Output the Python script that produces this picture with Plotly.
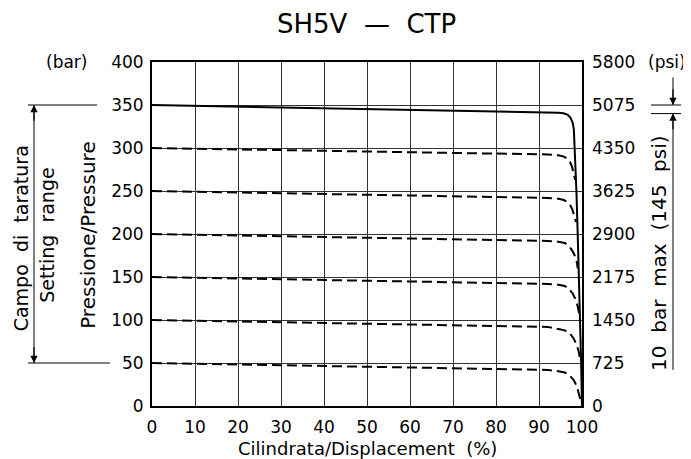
import plotly.graph_objects as go

# ---- data ----
x_ticks = [0, 10, 20, 30, 40, 50, 60, 70, 80, 90, 100]
bar_ticks = [0, 50, 100, 150, 200, 250, 300, 350, 400]
psi_ticks = [0, 725, 1450, 2175, 2900, 3625, 4350, 5075, 5800]

solid_pct = [0, 50, 92, 94.5, 95.7, 96.7, 97.3, 97.8, 98.1, 98.3, 98.7, 99.0, 99.3, 99.55, 99.8, 100]
solid_bar = [350, 345.5, 341.5, 341, 340.3, 338.5, 335.5, 330, 322, 300, 250, 200, 150, 100, 50, 0]

d300_pct = [0, 50, 92, 94.5, 95.8, 96.6, 97.2, 97.7, 98.1, 98.4]
d300_bar = [300, 296, 292.5, 291.5, 290, 287.5, 284, 278, 271, 263]
d250_pct = [0, 50, 92, 94.5, 95.8, 96.6, 97.3, 97.8, 98.2, 98.6]
d250_bar = [250, 246, 242, 241, 239.5, 237, 233, 228, 222, 214]
d200_pct = [0, 50, 92, 94.5, 96, 97, 97.7, 98.3, 98.8, 99.0]
d200_bar = [200, 196, 192, 191, 189.5, 186, 181, 175, 167, 160]
d150_pct = [0, 50, 92, 94.5, 96, 97, 97.8, 98.5, 99.0, 99.3]
d150_bar = [150, 146, 142, 141, 139.5, 136, 131, 124, 116, 108]
d100_pct = [0, 50, 92, 94.5, 96, 97.2, 98.0, 98.7, 99.2, 99.55]
d100_bar = [100, 96, 92, 89.5, 88, 84, 79, 72, 64, 55]
d50_pct = [0, 50, 92, 94.5, 96, 97.2, 98.1, 98.8, 99.3, 99.75]
d50_bar = [50, 46, 42, 40.5, 39, 35, 30, 23, 14, 5]

FONT = "DejaVu Sans"
fig = go.Figure()

dashed = [(d300_pct, d300_bar), (d250_pct, d250_bar), (d200_pct, d200_bar),
          (d150_pct, d150_bar), (d100_pct, d100_bar), (d50_pct, d50_bar)]
for xs, ys in dashed:
    fig.add_trace(go.Scatter(x=xs, y=ys, mode="lines",
                             line=dict(color="black", width=2, dash="10px,5px"),
                             showlegend=False, hoverinfo="skip"))
fig.add_trace(go.Scatter(x=solid_pct, y=solid_bar, mode="lines",
                         line=dict(color="black", width=2),
                         showlegend=False, hoverinfo="skip"))
# invisible trace for right axis
fig.add_trace(go.Scatter(x=[0], y=[0], yaxis="y2", mode="markers",
                         marker=dict(opacity=0), showlegend=False, hoverinfo="skip"))

axfont = dict(family=FONT, size=17, color="black")
txtfont = dict(family=FONT, size=19, color="black")
NB = "\u00a0"
fig.update_layout(
    width=683, height=451,
    margin=dict(l=144, r=109, t=54, b=53),
    paper_bgcolor="white", plot_bgcolor="white",
    font=dict(family=FONT, color="black"),
    xaxis=dict(range=[0, 100], tickvals=x_ticks, ticks="", showgrid=True,
               gridcolor="#333", gridwidth=1, showline=True, linecolor="black",
               linewidth=2, mirror=True, zeroline=False, tickfont=axfont,
               ticklabelstandoff=5, fixedrange=True),
    yaxis=dict(range=[0, 400], tickvals=bar_ticks, ticks="", showgrid=True,
               gridcolor="#333", gridwidth=1, showline=True, linecolor="black",
               linewidth=2, mirror=True, zeroline=False, tickfont=axfont,
               ticklabelstandoff=3, fixedrange=True),
    yaxis2=dict(range=[0, 5800], tickvals=psi_ticks, overlaying="y", side="right",
                ticks="", showgrid=False, showline=False, zeroline=False,
                tickfont=axfont, ticklabelstandoff=9, fixedrange=True),
)

def px2paper(px):
    # screen pixel (reference image) -> paper coordinate
    return (px - 152) / 430.0

ann = []
ann.append(dict(text="SH5V" + NB * 2 + "\u2014" + NB * 2 + "CTP", xref="paper", yref="paper",
                x=px2paper(366), y=1, yshift=38, xanchor="center", yanchor="middle",
                showarrow=False, font=dict(family=FONT, size=26, color="black")))
ann.append(dict(text="Cilindrata/Displacement" + NB * 2 + "(%)", xref="paper", yref="paper",
                x=px2paper(367), y=0, yshift=-42, xanchor="center", yanchor="middle",
                showarrow=False, font=dict(family=FONT, size=18, color="black")))
ann.append(dict(text="(bar)", xref="paper", yref="y", x=px2paper(66), y=400,
                xanchor="center", yanchor="middle", showarrow=False, font=axfont))
ann.append(dict(text="(psi)", xref="paper", yref="y", x=px2paper(688), y=400,
                xanchor="right", yanchor="middle", showarrow=False, font=axfont))
ann.append(dict(text="Campo" + NB * 2 + "di" + NB * 2 + "taratura", xref="paper", yref="y",
                x=px2paper(21), y=195, textangle=-90, xanchor="center", yanchor="middle",
                showarrow=False, font=txtfont))
ann.append(dict(text="Setting" + NB * 2 + "range", xref="paper", yref="y", x=px2paper(47), y=198,
                textangle=-90, xanchor="center", yanchor="middle", showarrow=False, font=txtfont))
ann.append(dict(text="Pressione/Pressure", xref="paper", yref="y", x=px2paper(88), y=199,
                textangle=-90, xanchor="center", yanchor="middle", showarrow=False,
                font=dict(family=FONT, size=20, color="black")))
ann.append(dict(text="10" + NB * 2 + "bar" + NB * 2 + "max" + NB * 2 + "(145" + NB * 2 + "psi)",
                xref="paper", yref="y", x=px2paper(659), y=178,
                textangle=-90, xanchor="center", yanchor="middle", showarrow=False,
                font=dict(family=FONT, size=20, color="black")))
# arrowheads (short arrows; the shafts are drawn as shapes below)
heads = [(34, 350, 330), (34, 50, 70), (673, 350, 370), (673, 340, 320)]
for xp, head, tail in heads:
    ann.append(dict(text="", xref="paper", yref="y", x=px2paper(xp), y=head,
                    axref="pixel", ayref="y", ax=0, ay=tail, showarrow=True,
                    arrowhead=2, arrowsize=1.2, arrowwidth=1.2, arrowcolor="black"))
fig.update_layout(annotations=ann)

line1 = dict(color="black", width=1)
shapes = [
    dict(type="line", xref="paper", yref="y", x0=px2paper(28), x1=px2paper(97), y0=350, y1=350, line=line1),
    dict(type="line", xref="paper", yref="y", x0=px2paper(28), x1=px2paper(110), y0=50, y1=50, line=line1),
    dict(type="line", xref="paper", yref="y", x0=px2paper(34), x1=px2paper(34), y0=50, y1=350, line=line1),
    dict(type="line", xref="paper", yref="y", x0=px2paper(651), x1=px2paper(681), y0=350, y1=350, line=line1),
    dict(type="line", xref="paper", yref="y", x0=px2paper(651), x1=px2paper(681), y0=340, y1=340, line=line1),
    dict(type="line", xref="paper", yref="y", x0=px2paper(673), x1=px2paper(673), y0=350, y1=382, line=line1),
    dict(type="line", xref="paper", yref="y", x0=px2paper(673), x1=px2paper(673), y0=42, y1=340, line=line1),
]
fig.update_layout(shapes=shapes)

fig.write_html("out.html")
